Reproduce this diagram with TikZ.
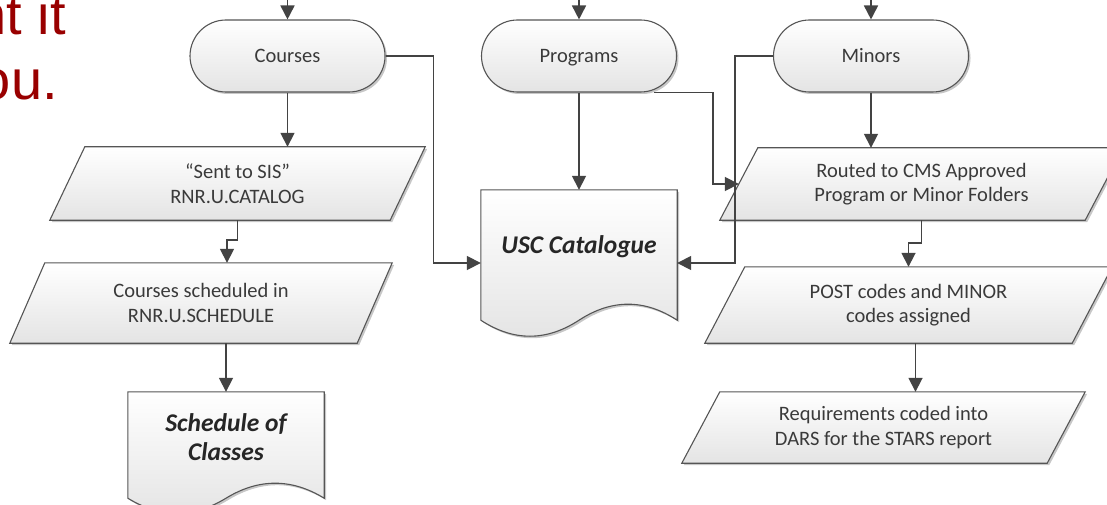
\documentclass[tikz,border=0pt]{standalone}
\usepackage{fontspec}
\setmainfont{Carlito}
\newfontfamily\redfont{Liberation Sans}
\usetikzlibrary{arrows.meta,shadows,calc}
\pgfdeclarelayer{bg}
\pgfsetlayers{bg,main}
\definecolor{linegray}{HTML}{434343}
\definecolor{bordergray}{HTML}{555555}
\definecolor{fillgray}{HTML}{E4E4E4}
\definecolor{textgray}{HTML}{3A3A3A}
\definecolor{darkred}{HTML}{990000}
\tikzset{
  shapebody/.style={draw=bordergray, line width=1.1pt, top color=white, bottom color=fillgray,
    drop shadow={shadow xshift=2pt, shadow yshift=-2pt, opacity=0.22, fill=black}},
  term/.style={shapebody, rounded corners=36pt, minimum width=195pt, minimum height=72pt,
    inner sep=0pt, text height=13pt, text depth=0pt, text=textgray, font=\fontsize{20.5}{24.5}\selectfont},
  ptext/.style={inner sep=0pt, align=center, text=textgray, font=\fontsize{20.5}{24.5}\selectfont},
  dtext/.style={inner sep=0pt, align=center, text=black!85, font=\bfseries\itshape\fontsize{25.5}{29}\selectfont},
  conn/.style={draw=linegray, line width=1.7pt, -{Triangle[length=14pt,width=14pt]}},
  redtext/.style={anchor=base east, inner sep=0pt, text=darkred, font=\redfont\fontsize{56}{64}\selectfont}
}
\newcommand\paraShape[2]{%
  \begin{pgfonlayer}{bg}
  \path[shapebody] (#1.south west) -- ([xshift=#2]#1.north west) -- (#1.north east)
    -- ([xshift=-#2]#1.south east) -- cycle;
  \end{pgfonlayer}}
\newcommand\docShape[3]{%
  \begin{pgfonlayer}{bg}
  \path[shapebody] let \p1=(#1.north west), \p2=(#1.south east) in
    (\x1,\y1) -- (\x2,\y1) -- (\x2,{\y2-#2})
    .. controls ({\x2-(\x2-\x1)/6},{\y2-#2+4/3*#3}) and ({\x2-(\x2-\x1)/3},{\y2-#2+4/3*#3}) .. ({(\x1+\x2)/2},{\y2-#2})
    .. controls ({\x1+(\x2-\x1)/3},{\y2-#2-4/3*#3}) and ({\x1+(\x2-\x1)/6},{\y2-#2-4/3*#3}) .. (\x1,{\y2-#2})
    -- cycle;
  \end{pgfonlayer}}
\begin{document}
\begin{tikzpicture}[x=1pt, y=-1pt]
\useasboundingbox (0,0) rectangle (1107,505);

% partial red slide text
\node[redtext] (red1) at (66,35) {nt it};
\node[redtext] (red2) at (58,100) {ou.};

% terminators
\node[term] (courses) at (287.5,56) {Courses};
\node[term] (programs) at (579,56) {Programs};
\node[term] (minors) at (871,56) {Minors};

% incoming arrows from above
\coordinate (tc) at (287.5,-5);
\coordinate (tp) at (579,-5);
\coordinate (tm) at (871,-5);
\draw[conn] (tc) -- (courses.north);
\draw[conn] (tp) -- (programs.north);
\draw[conn] (tm) -- (minors.north);

% parallelograms
\node[ptext, minimum width=375pt, minimum height=73pt] (sis) at (237.5,183.5) {“Sent to SIS”\\RNR.U.CATALOG};
\paraShape{sis}{35pt}
\node[ptext, minimum width=382pt, minimum height=80pt] (sched) at (201,303) {Courses scheduled in\\RNR.U.SCHEDULE};
\paraShape{sched}{35pt}
\node[ptext, minimum width=403pt, minimum height=72pt] (rt) at (921.5,184) {Routed to CMS Approved\\Program or Minor Folders};
\paraShape{rt}{38pt}
\node[ptext, minimum width=407pt, minimum height=76pt] (post) at (908.5,305) {POST codes and MINOR\\codes assigned};
\paraShape{post}{40pt}
\node[ptext, minimum width=403pt, minimum height=71pt] (req) at (883.5,427.5) {Requirements coded into\\DARS for the STARS report};
\paraShape{req}{38pt}

% documents
\node[dtext, minimum width=196pt, minimum height=114pt] (usc) at (579,247) {USC Catalogue};
\docShape{usc}{16pt}{16pt}
\node[dtext, minimum width=196pt, minimum height=90pt] (sdoc) at (226,437) {Schedule of\\Classes};
\docShape{sdoc}{16pt}{15pt}

% connectors
\draw[conn] (courses.south) -- (courses.south |- sis.north);
\draw[conn] (sis.south) -- ++(0,20) -| ([xshift=26pt]sched.north);
\draw[conn] (sdoc.north |- sched.south) -- (sdoc.north);
\draw[conn] (courses.east) -- ++(48,0) |- ([yshift=-16pt]usc.west);
\draw[conn] (programs.south) -- (usc.north);
\draw[conn] ([xshift=-23pt]programs.south east) -| ([xshift=-7pt]rt.west) -- ([xshift=19pt]rt.west);
\draw[conn] (minors.west) -- ++(-38,0) |- ([yshift=-16pt]usc.east);
\draw[conn] (minors.south) -- (minors.south |- rt.north);
\draw[conn] (rt.south) -- ++(0,23) -| (post.north);
\draw[conn] ([xshift=7pt]post.south) -- ([xshift=7pt]post.south |- req.north);
\end{tikzpicture}
\end{document}
